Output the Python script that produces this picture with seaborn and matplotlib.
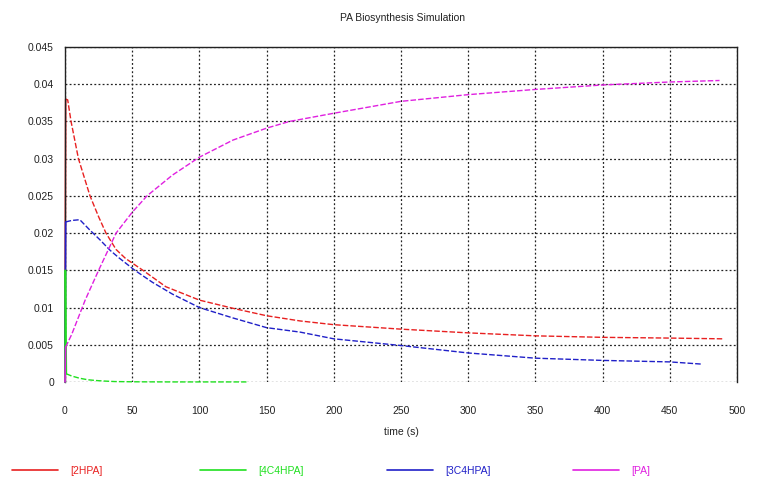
import numpy as np
import pandas as pd
import matplotlib
matplotlib.use("Agg")
import matplotlib.pyplot as plt
import seaborn as sns

title = "PA Biosynthesis Simulation"
xlabel = "time (s)"
labels = ["[2HPA]", "[4C4HPA]", "[3C4HPA]", "[PA]"]
colors = ["#e82020", "#20e020", "#2020c8", "#e020e0"]

t_red = [0, 0.5, 2, 4.5, 10, 18.6, 25, 30.5, 38, 45, 58, 75, 100, 125, 150, 175, 200, 250, 300, 350, 400, 450, 489]
v_red = [0, 0.038, 0.0379, 0.035, 0.030, 0.025, 0.0222, 0.020, 0.0178, 0.0166, 0.015, 0.0128, 0.011, 0.0099,
         0.0089, 0.0082, 0.0077, 0.0071, 0.0066, 0.0062, 0.0060, 0.0059, 0.0058]

t_green = [0, 0.3, 1, 5, 11, 17, 23, 30, 37, 50, 60, 80, 100, 135]
v_green = [0, 0.015, 0.0011, 0.0008, 0.0005, 0.0003, 0.0002, 0.00012, 0.00006, 0.00003, 0.00002, 0.00001,
           0.00001, 0.00001]

t_blue = [0, 0.5, 5, 11, 18, 26, 33.5, 40, 52, 65, 80, 100, 125, 150, 175, 200, 250, 300, 350, 400, 450, 474]
v_blue = [0, 0.0215, 0.0217, 0.0218, 0.0205, 0.0191, 0.0177, 0.0167, 0.015, 0.0134, 0.0118, 0.010, 0.0086,
          0.0073, 0.0067, 0.0058, 0.0049, 0.0039, 0.0032, 0.0029, 0.0027, 0.0024]

t_mag = [0, 0.5, 5, 15, 25, 38, 50, 61, 80, 100, 125, 150, 167, 200, 250, 300, 350, 400, 450, 487]
v_mag = [0, 0.0047, 0.0064, 0.011, 0.015, 0.020, 0.0228, 0.025, 0.0278, 0.0302, 0.0325, 0.0341, 0.035,
         0.0361, 0.0377, 0.0386, 0.0393, 0.0399, 0.0403, 0.0405]

xticks = [0, 50, 100, 150, 200, 250, 300, 350, 400, 450, 500]
yticks = [0, 0.005, 0.01, 0.015, 0.02, 0.025, 0.03, 0.035, 0.04, 0.045]
ytick_labels = ["0", "0.005", "0.01", "0.015", "0.02", "0.025", "0.03", "0.035", "0.04", "0.045"]

sns.set_theme(style="white")
plt.rcParams["font.family"] = ["Liberation Sans", "DejaVu Sans"]

fig = plt.figure(figsize=(7.83, 4.92), dpi=100)
ax = fig.add_axes([65 / 783, 1 - 382 / 492, (737 - 65) / 783, (382 - 47) / 492])

series = [(t_red, v_red), (t_green, v_green), (t_blue, v_blue), (t_mag, v_mag)]
zorders = [2, 4, 3, 5]
n_start = [2, 3, 2, 2]  # initial jump drawn solid
for (t, v), col, z, n in zip(series, colors, zorders, n_start):
    df = pd.DataFrame({"t": t, "v": v})
    sns.lineplot(data=df.iloc[:n], x="t", y="v", ax=ax, color=col, lw=1.2,
                 sort=False, estimator=None, zorder=z, clip_on=False)
    sns.lineplot(data=df.iloc[n - 1:], x="t", y="v", ax=ax, color=col, lw=1.0,
                 linestyle=(0, (4, 1.5)), sort=False, estimator=None, zorder=z, clip_on=False)

ax.set_xlim(0, 500)
ax.set_ylim(0, 0.045)
ax.set_xticks(xticks)
ax.set_xticklabels([str(x) for x in xticks])
ax.set_yticks(yticks)
ax.set_yticklabels(ytick_labels)
ax.tick_params(axis="both", length=0, labelsize=7.5, colors="#222222")
ax.tick_params(axis="x", pad=17)
ax.tick_params(axis="y", pad=8)
ax.grid(True, color="#222222", linestyle=(0, (1.5, 1.8)), linewidth=0.9)
ax.set_axisbelow(True)
for side in ["left", "top", "right"]:
    ax.spines[side].set_visible(True)
    ax.spines[side].set_color("#222222")
    ax.spines[side].set_linewidth(1.0)
ax.spines["bottom"].set_visible(False)
ax.set_xlabel("")
ax.set_ylabel("")

fig.text(402 / 783, 1 - 18 / 492, title, ha="center", va="center", fontsize=7.5, color="#222222")
fig.text(401 / 783, 1 - 432 / 492, xlabel, ha="center", va="center", fontsize=7.5, color="#222222")

leg_x = [12, 200, 387, 573]
for lab, col, lx in zip(labels, colors, leg_x):
    proxy = plt.Line2D([], [], color=col, lw=1.2)
    leg = fig.legend([proxy], [lab], loc="center left", bbox_to_anchor=(lx / 783, 1 - 471 / 492),
                     frameon=False, fontsize=7.5, handlelength=4.4, handletextpad=1.2,
                     borderpad=0, borderaxespad=0)
    for txt in leg.get_texts():
        txt.set_color(col)

fig.savefig("out.png", dpi=100)
